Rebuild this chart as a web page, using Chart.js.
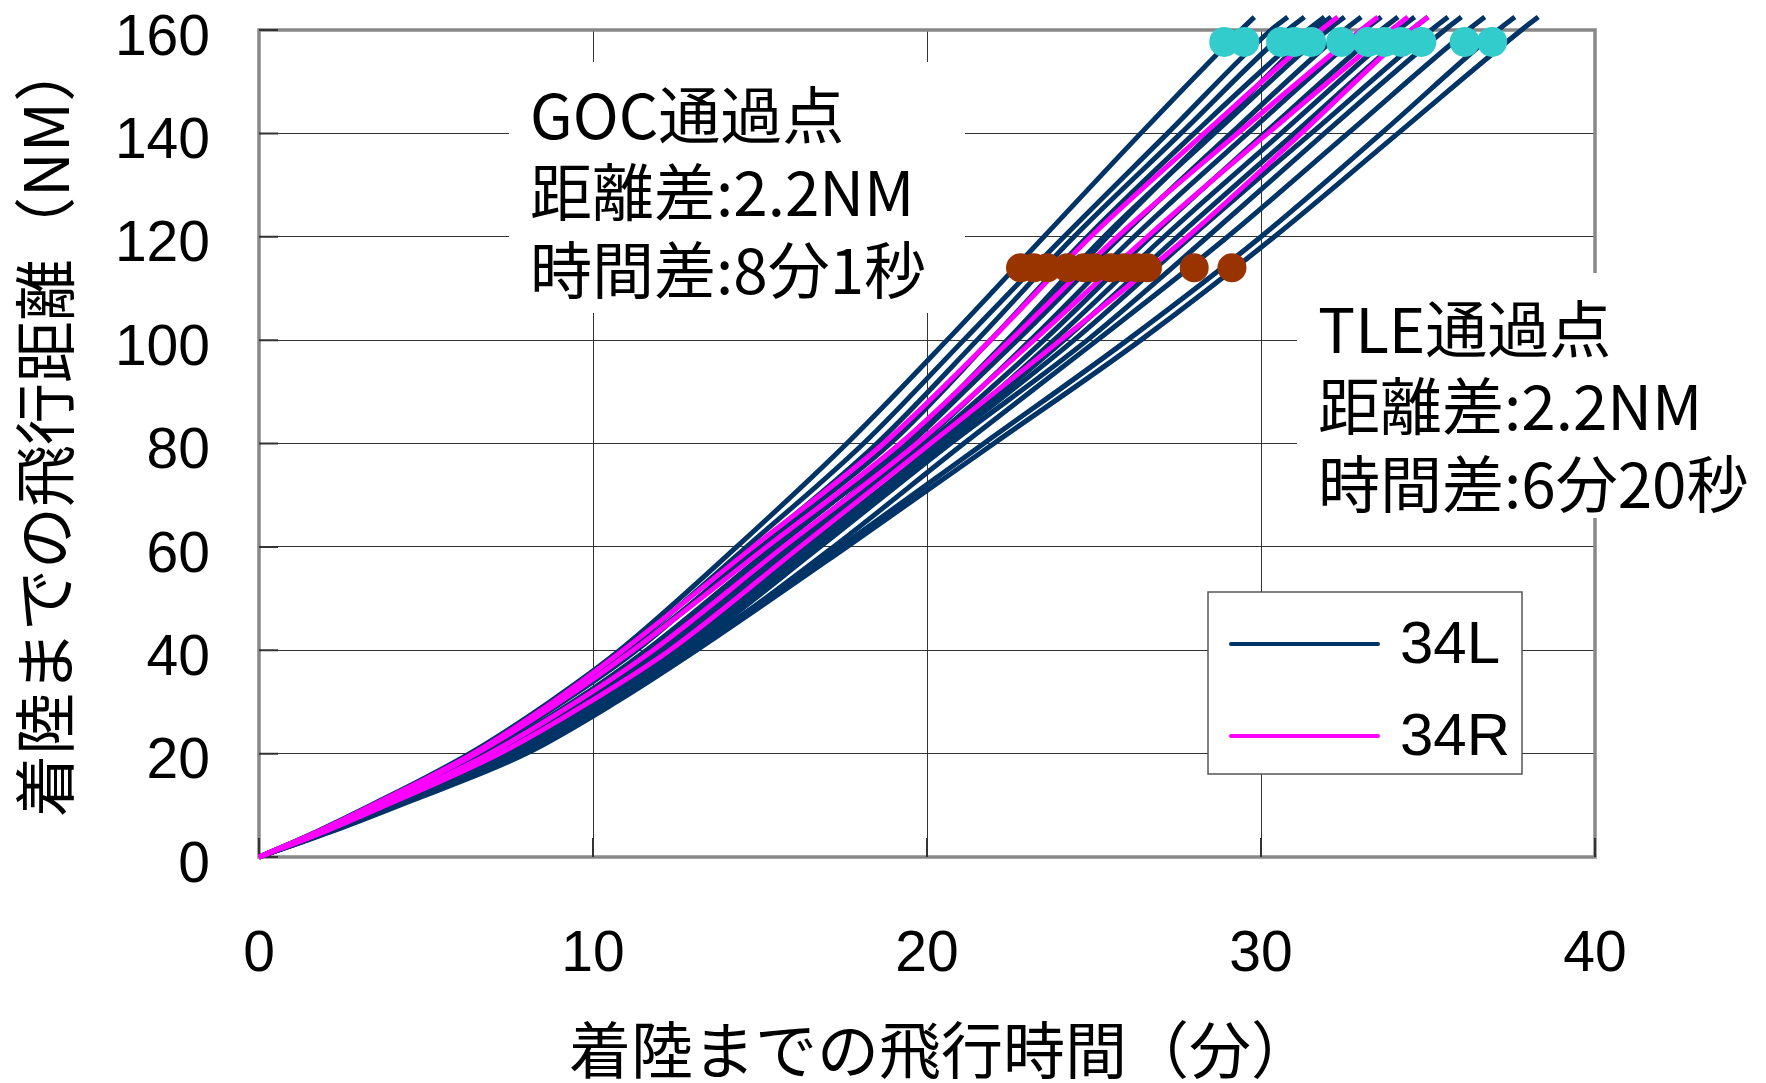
<!DOCTYPE html>
<html>
<head>
<meta charset="utf-8">
<script src="https://cdn.jsdelivr.net/npm/chart.js@4.4.1/dist/chart.umd.min.js"></script>
<style>
  html, body { margin: 0; padding: 0; background: #ffffff; }
  canvas { display: block; }
</style>
</head>
<body>
<canvas id="chart" width="1766" height="1083"></canvas>
<script>
// Distance to touchdown (NM) at which each flight's elapsed time is recorded
const distanceNM = [0, 5, 10, 20, 30, 40, 60, 80, 100, 120, 140, 160, 162.5];

// Time to touchdown (min) for runway 34L arrivals, one array per flight
const L01 = [0, 1.75, 3.35, 6.3, 8.7, 10.8, 14.3, 17.6, 20.6, 23.5, 26.4, 29.4, 29.8];
const L02 = [0, 1.8, 3.4, 6.4, 8.9, 11.0, 14.6, 18.1, 21.1, 24.1, 27.2, 30.3, 30.8];
const L03 = [0, 1.85, 3.5, 6.6, 9.1, 11.3, 14.9, 18.5, 21.5, 24.4, 27.6, 30.8, 31.3];
const L04 = [0, 1.8, 3.45, 6.5, 9.0, 11.2, 15.0, 18.9, 21.9, 24.8, 28.0, 31.4, 31.9];
const L05 = [0, 1.95, 3.7, 7.0, 9.6, 11.8, 15.5, 19.3, 22.4, 25.3, 28.6, 32.0, 32.5];
const L06 = [0, 1.9, 3.6, 6.8, 9.4, 11.6, 15.4, 19.4, 22.7, 25.8, 29.1, 32.5, 33.0];
const L07 = [0, 2.0, 3.8, 7.1, 9.8, 12.0, 15.9, 19.8, 23.1, 26.2, 29.6, 33.1, 33.6];
const L08 = [0, 2.0, 3.8, 7.2, 9.9, 12.2, 16.1, 20.0, 23.5, 26.7, 30.1, 33.6, 34.1];
const L09 = [0, 2.05, 3.9, 7.3, 10.0, 12.4, 16.4, 20.3, 23.8, 27.1, 30.6, 34.1, 34.6];
const L10 = [0, 2.05, 3.9, 7.4, 10.1, 12.5, 16.5, 20.4, 24.1, 27.5, 31.0, 34.5, 35.0];
const L11 = [0, 2.1, 4.0, 7.5, 10.2, 12.6, 16.6, 20.5, 24.4, 27.9, 31.5, 35.1, 35.6];
const L12 = [0, 2.1, 4.0, 7.6, 10.3, 12.8, 16.8, 20.7, 24.8, 28.4, 31.9, 35.5, 36.0];
const L13 = [0, 2.15, 4.1, 7.8, 10.5, 13.0, 17.2, 21.1, 25.1, 29.0, 32.6, 36.2, 36.7];
const L14 = [0, 2.15, 4.1, 7.8, 10.5, 12.9, 17.4, 21.7, 26.0, 30.0, 33.6, 37.1, 37.6];
const L15 = [0, 2.2, 4.2, 8.0, 10.7, 13.1, 17.6, 22.0, 26.4, 30.4, 34.1, 37.8, 38.3];
const L16 = [0, 1.95, 3.7, 7.0, 9.7, 11.9, 15.8, 19.5, 22.6, 25.4, 28.5, 31.6, 32.1];

// Time to touchdown (min) for runway 34R arrivals
const R01 = [0, 1.8, 3.4, 6.4, 8.8, 10.9, 14.8, 18.7, 21.9, 24.9, 28.3, 31.8, 32.3];
const R02 = [0, 1.8, 3.45, 6.5, 9.0, 11.2, 15.2, 19.2, 22.5, 25.7, 29.3, 33.0, 33.5];
const R03 = [0, 1.9, 3.65, 6.9, 9.5, 11.8, 15.7, 19.7, 23.2, 26.6, 30.2, 33.9, 34.4];
const R04 = [0, 2.0, 3.8, 7.2, 9.9, 12.3, 16.2, 20.1, 24.0, 27.8, 31.2, 34.5, 35.0];

const flights34L = [L01, L02, L03, L04, L05, L06, L07, L08, L09, L10, L11, L12, L13, L14, L15, L16];
const flights34R = [R01, R02, R03, R04];

// Passing points: time (min) at the fix, and the fix's distance (NM)
const gocPassTimes = [28.9, 29.5, 30.6, 31.0, 31.5, 32.4, 33.2, 33.7, 34.2, 34.8, 36.1, 36.92];
const gocPassDistance = 157.7;
const tlePassTimes = [22.8, 23.2, 23.6, 24.2, 24.7, 25.0, 25.5, 25.9, 26.3, 26.6, 28.0, 29.13];
const tlePassDistance = 114;

// Axis ticks
const xTicks = [0, 10, 20, 30, 40];
const yTicks = [0, 20, 40, 60, 80, 100, 120, 140, 160];

// Text
const xTitle = '着陸までの飛行時間（分）';
const yTitle = '着陸までの飛行距離（NM）';
const gocNote = ['GOC通過点', '距離差:2.2NM', '時間差:8分1秒'];
const tleNote = ['TLE通過点', '距離差:2.2NM', '時間差:6分20秒'];
const legendLabels = ['34L', '34R'];

const NAVY = '#003366';
const MAGENTA = '#ff00ff';
const CJK = '"Noto Sans CJK JP", "Noto Sans", sans-serif';
const LATIN = '"Liberation Sans", Arial, sans-serif';

function toPoints(times) {
  return times.map((t, i) => ({ x: t, y: distanceNM[i] }));
}

const lineClip = { left: 4, top: 16, right: 4, bottom: 4 };
const datasets = [];
flights34L.forEach(f => datasets.push({
  label: legendLabels[0], data: toPoints(f), showLine: true, borderColor: NAVY,
  backgroundColor: NAVY, borderWidth: 5, pointRadius: 0, cubicInterpolationMode: 'monotone',
  clip: lineClip, order: 3
}));
flights34R.forEach(f => datasets.push({
  label: legendLabels[1], data: toPoints(f), showLine: true, borderColor: MAGENTA,
  backgroundColor: MAGENTA, borderWidth: 5, pointRadius: 0, cubicInterpolationMode: 'monotone',
  clip: lineClip, order: 2
}));
datasets.push({
  label: 'TLE', data: tlePassTimes.map(t => ({ x: t, y: tlePassDistance })),
  showLine: false, pointRadius: 14.5, pointHoverRadius: 14.5, borderWidth: 0,
  backgroundColor: '#993300', clip: false, order: 1
});
datasets.push({
  label: 'GOC', data: gocPassTimes.map(t => ({ x: t, y: gocPassDistance })),
  showLine: false, pointRadius: 15, pointHoverRadius: 15, borderWidth: 0,
  backgroundColor: '#33cccc', clip: false, order: 1
});

// Frame, note boxes, legend and axis titles
const overlay = {
  id: 'overlay',
  beforeDatasetsDraw(chart) {
    const { ctx, chartArea: a } = chart;
    ctx.save();
    // plot frame
    ctx.strokeStyle = '#888888';
    ctx.lineWidth = 3.5;
    ctx.strokeRect(a.left, a.top, a.right - a.left, a.bottom - a.top);

    // short inside tick marks
    const xs = chart.scales.x, ys = chart.scales.y;
    ctx.strokeStyle = '#333333';
    ctx.lineWidth = 2;
    ctx.beginPath();
    yTicks.forEach(v => { const y = ys.getPixelForValue(v); ctx.moveTo(a.left, y); ctx.lineTo(a.left + 19, y); });
    xTicks.forEach(v => { const x = xs.getPixelForValue(v); ctx.moveTo(x, a.bottom); ctx.lineTo(x, a.bottom - 19); });
    ctx.stroke();

    // note boxes
    ctx.fillStyle = '#ffffff';
    ctx.fillRect(509, 62, 456, 251);
    ctx.fillRect(1297, 273, 469, 245);
    ctx.fillStyle = '#000000';
    ctx.font = '62px ' + CJK;
    ctx.textBaseline = 'middle';
    ctx.textAlign = 'left';
    gocNote.forEach((s, i) => ctx.fillText(s, 530, 115 + i * 77.5));
    tleNote.forEach((s, i) => ctx.fillText(s, 1318, 329 + i * 77.5));

    // legend
    ctx.fillStyle = '#ffffff';
    ctx.fillRect(1208, 592, 314, 182);
    ctx.strokeStyle = '#555555';
    ctx.lineWidth = 1.5;
    ctx.strokeRect(1208, 592, 314, 182);
    [NAVY, MAGENTA].forEach((c, i) => {
      const y = 644 + i * 92;
      ctx.strokeStyle = c;
      ctx.lineWidth = 4;
      ctx.lineCap = 'round';
      ctx.beginPath();
      ctx.moveTo(1231, y);
      ctx.lineTo(1378, y);
      ctx.stroke();
      ctx.fillStyle = '#000000';
      ctx.font = '60px ' + LATIN;
      ctx.fillText(legendLabels[i], 1400, y + 2);
    });
    ctx.restore();
  },
  afterDraw(chart) {
    const { ctx } = chart;
    ctx.save();
    ctx.fillStyle = '#000000';
    ctx.font = '62px ' + CJK;
    ctx.textBaseline = 'middle';
    ctx.textAlign = 'left';
    ctx.fillText(xTitle, 569, 1050);
    ctx.translate(45, 817);
    ctx.rotate(-Math.PI / 2);
    ctx.fillText(yTitle, 0, 0);
    ctx.restore();
  }
};

new Chart(document.getElementById('chart'), {
  type: 'scatter',
  data: { datasets },
  plugins: [overlay],
  options: {
    responsive: false,
    animation: false,
    devicePixelRatio: 1,
    layout: { padding: { top: 30, right: 171, bottom: 0, left: 0 } },
    plugins: { legend: { display: false }, tooltip: { enabled: false } },
    scales: {
      x: {
        type: 'linear', min: 0, max: 40,
        afterBuildTicks(s) { s.ticks = xTicks.map(v => ({ value: v })); },
        afterFit(s) { s.height = 226; s.paddingLeft = 0; s.paddingRight = 0; },
        ticks: { padding: 64, color: '#000', font: { family: LATIN, size: 57 } },
        grid: { color: '#333333', lineWidth: 1, drawTicks: false },
        border: { display: false },
        title: { display: false, text: xTitle }
      },
      y: {
        type: 'linear', min: 0, max: 160,
        afterBuildTicks(s) { s.ticks = yTicks.map(v => ({ value: v })); },
        afterFit(s) { s.width = 259; s.paddingTop = 0; s.paddingBottom = 0; },
        ticks: { padding: 49, labelOffset: 9, color: '#000', font: { family: LATIN, size: 57 } },
        grid: { color: '#333333', lineWidth: 1, drawTicks: false },
        border: { display: false },
        title: { display: false, text: yTitle }
      }
    }
  }
});
</script>
</body>
</html>
